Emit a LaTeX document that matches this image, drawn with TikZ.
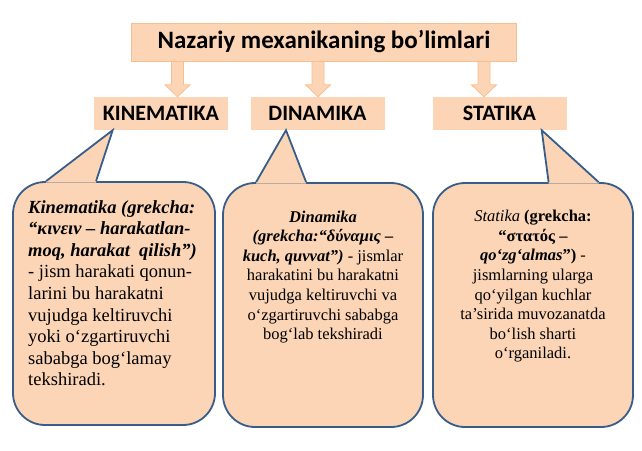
\documentclass[tikz,border=0pt]{standalone}
\usepackage{fontspec}
\setmainfont{Liberation Serif}
\newfontfamily\headfont{Carlito}
\usetikzlibrary{calc}
\definecolor{peachFill}{RGB}{251,213,181}
\definecolor{peachStroke}{RGB}{249,190,142}
\definecolor{noteStroke}{RGB}{56,93,138}
\tikzset{
  titlebox/.style={
    draw=peachStroke,
    fill=peachFill,
    line width=0.8pt,
    minimum width=385pt,
    minimum height=38pt,
    font=\headfont\bfseries\fontsize{25}{29}\selectfont
  },
  branch/.style={
    fill=peachFill,
    minimum width=134pt,
    minimum height=33pt,
    inner sep=0pt,
    font=\headfont\bfseries\fontsize{22}{26}\selectfont
  },
  notebox/.style={
    draw=noteStroke,
    fill=peachFill,
    line width=1.8pt,
    rounded corners=32pt,
    minimum width=200pt,
    minimum height=244pt
  },
  notetext/.style={font=\fontsize{16.5}{19.6}\selectfont, inner sep=0pt},
  blockarrow/.style={draw=peachStroke, fill=peachFill, line width=0.8pt, line join=miter}
}
% pointer of a callout: note, base from/to (from its left edge), branch, tip shift
\newcommand{\NotePointer}[5]{%
  \fill[peachFill] ([xshift=#2]#1.north west) -- ([xshift=#5]#4.south) -- ([xshift=#3]#1.north west)
    -- ([xshift=#3,yshift=-1.6pt]#1.north west) -- ([xshift=#2,yshift=-1.6pt]#1.north west) -- cycle;
  \draw[noteStroke, line width=1.8pt, line join=miter]
    ([xshift=#2]#1.north west) -- ([xshift=#5]#4.south) -- ([xshift=#3]#1.north west);
}
% wide down arrow from the title to a branch
\newcommand{\BranchArrow}[3]{%
  \coordinate (ax) at (#1,0);
  \filldraw[blockarrow] ($(#2.south -| ax)+(-6,0)$) -- ($(#3.north -| ax)+(-6,-12)$)
    -- ($(#3.north -| ax)+(-12.5,-12)$) -- (#3.north -| ax) -- ($(#3.north -| ax)+(12.5,-12)$)
    -- ($(#3.north -| ax)+(6,-12)$) -- ($(#2.south -| ax)+(6,0)$) -- cycle;
}

\begin{document}
\begin{tikzpicture}[x=1pt,y=-1pt]
  \useasboundingbox (0,0) rectangle (642,450);

  \node[titlebox] (title) at (324,42) {Nazariy mexanikaning bo’limlari};

  \node[branch] (kin) at (161,113.5) {KINEMATIKA};
  \node[branch] (din) at (317.5,113.5) {DINAMIKA};
  \node[branch] (stat) at (499.5,113.5) {STATIKA};

  \foreach \ax/\sub in {177.5/kin,318/din,484/stat}
    \BranchArrow{\ax}{title}{\sub};

  \node[notebox, minimum width=202pt, minimum height=243pt] (kinNote) at (114,303.5) {};
  \node[notebox] (dinNote) at (323,305) {};
  \node[notebox] (statNote) at (533,305) {};

  \NotePointer{kinNote}{34pt}{84pt}{kin}{-48.3pt}
  \NotePointer{dinNote}{34pt}{84pt}{din}{-31.5pt}
  \NotePointer{statNote}{116.5pt}{166.5pt}{stat}{42.2pt}

  \node[notetext, font=\fontsize{18.5}{21.6}\selectfont, align=left, anchor=north west] (kinText) at (28,200)
    {\textbf{\textit{Kinematika (grekcha:}}\\
     \textbf{\textit{“κινειν – harakatlan-}}\\
     \textbf{\textit{moq, harakat\ \ qilish”)}}\\
     - jism harakati qonun-\\
     larini bu harakatni\\
     vujudga keltiruvchi\\
     yoki o‘zgartiruvchi\\
     sababga bog‘lamay\\
     tekshiradi.};

  \node[notetext, align=center, anchor=north] (dinText) at (323,210.5)
    {\textbf{\textit{Dinamika}}\\
     \textbf{\textit{(grekcha:“δύναμις –}}\\
     \textbf{\textit{kuch, quvvat”)}} - jismlar\\
     harakatini bu harakatni\\
     vujudga keltiruvchi va\\
     o‘zgartiruvchi sababga\\
     bog‘lab tekshiradi};

  \node[notetext, align=center, anchor=north] (statText) at (533,210)
    {\textit{Statika} \textbf{(grekcha:}\\
     \textbf{“στατός –}\\
     \textbf{\textit{qo‘zg‘almas}”)} -\\
     jismlarning ularga\\
     qo‘yilgan kuchlar\\
     ta’sirida muvozanatda\\
     bo‘lish sharti\\
     o‘rganiladi.};
\end{tikzpicture}
\end{document}
